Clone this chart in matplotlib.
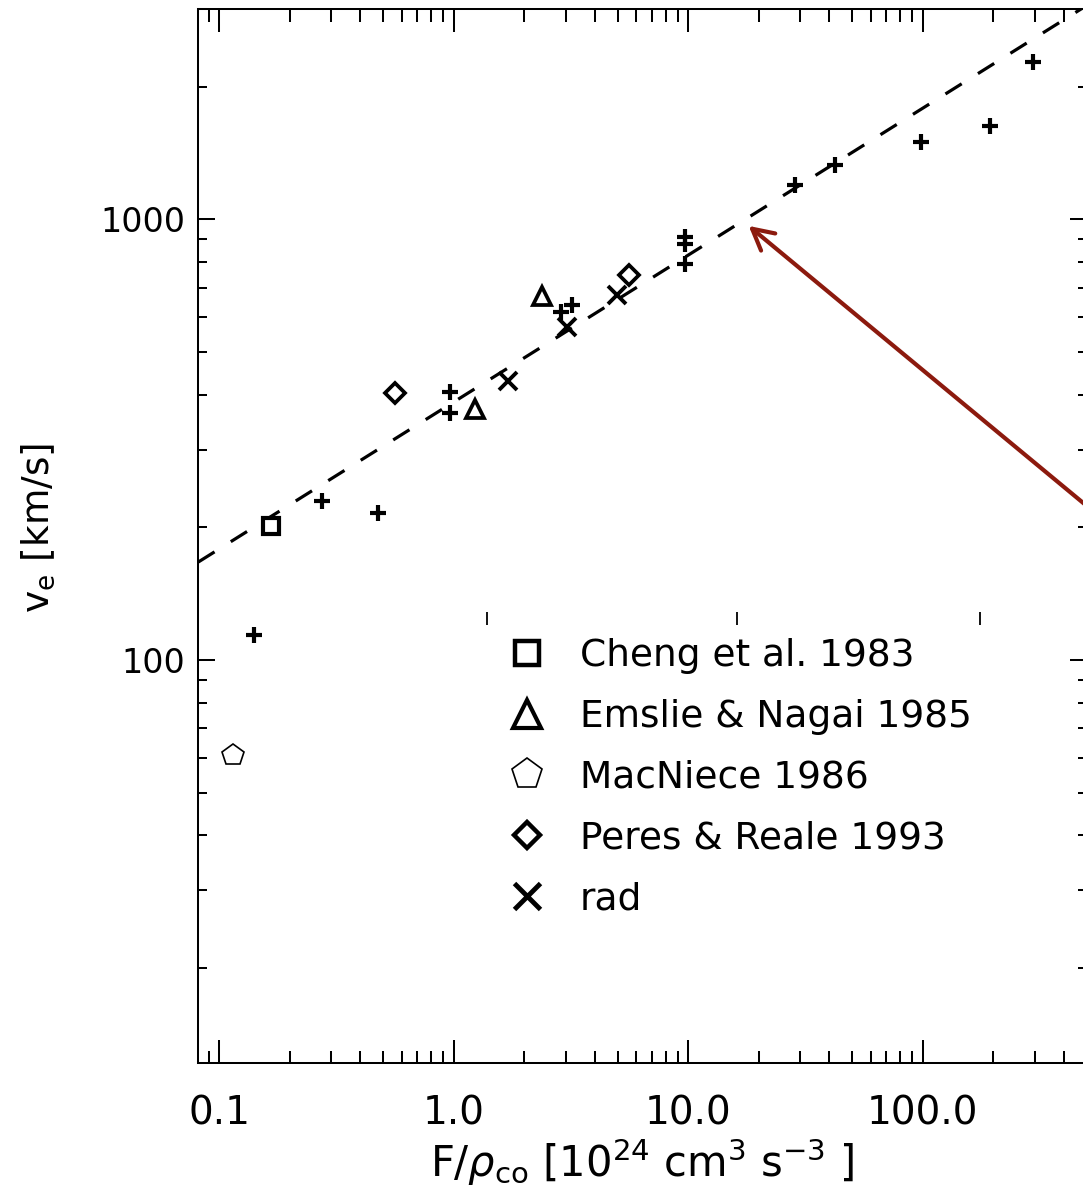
import numpy as np
import matplotlib
matplotlib.use("Agg")
import matplotlib.pyplot as plt
from matplotlib.lines import Line2D
from matplotlib.ticker import FixedLocator, FixedFormatter, NullFormatter

# ---------------- data ----------------
plus_x = [0.14, 0.274, 0.475, 0.96, 0.96, 2.87, 3.2, 9.7, 9.7, 9.7, 28.6, 42.4, 98.4, 193.6, 294]
plus_y = [114, 229, 216, 406, 363, 616, 639, 910, 878, 790, 1196, 1328, 1500, 1631, 2278]

cheng_x = [0.166]
cheng_y = [201]
emslie_x = [1.237, 2.385]
emslie_y = [372, 670]
macniece_x = [0.114]
macniece_y = [61]
peres_x = [0.56, 5.59]
peres_y = [404, 747]
rad_x = [1.71, 3.05, 4.97]
rad_y = [429, 570, 673]

fit_coef = 385.0      # v = fit_coef * (F/rho)^fit_exp
fit_exp = 1.0 / 3.0

x_lim = [0.0814, 500.0]
y_lim = [12.2, 3000.0]
x_major = [0.1, 1.0, 10.0, 100.0]
x_major_labels = ["0.1", "1.0", "10.0", "100.0"]
y_major = [100, 1000]
y_major_labels = ["100", "1000"]

legend_labels = ["Cheng et al. 1983", "Emslie & Nagai 1985", "MacNiece 1986",
                 "Peres & Reale 1993", "rad"]

arrow_tip = (18.1, 966)

# ---------------- figure ----------------
plt.rcParams["font.family"] = ["DejaVu Sans"]
plt.rcParams["mathtext.fontset"] = "dejavusans"

W, H = 1083, 1195
fig = plt.figure(figsize=(W / 100, H / 100), dpi=100)
ax_left, ax_right, ax_top, ax_bottom = 198.3, 1086.7, 9.0, 1062.7
ax = fig.add_axes([ax_left / W, 1 - ax_bottom / H,
                   (ax_right - ax_left) / W, (ax_bottom - ax_top) / H])
ax.set_xscale("log")
ax.set_yscale("log")
ax.set_xlim(x_lim)
ax.set_ylim(y_lim)

# fitted dashed line
xf = np.logspace(np.log10(x_lim[0]), np.log10(x_lim[1]), 200)
fit_line, = ax.plot(xf, fit_coef * xf ** fit_exp, color="black", lw=2.3)
fit_line.set_dashes((6.0, 6.0))

# data points
ax.plot(plus_x, plus_y, ls="none", marker="+", ms=11.5, mew=3.0, color="black")
ax.plot(cheng_x, cheng_y, ls="none", marker="s", ms=11.5, mew=3.0, mfc="white", mec="black")
ax.plot(emslie_x, emslie_y, ls="none", marker="^", ms=13.5, mew=2.7, mfc="white", mec="black")
ax.plot(macniece_x, macniece_y, ls="none", marker="p", ms=16, mew=1.2, mfc="white", mec="black")
ax.plot(peres_x, peres_y, ls="none", marker="D", ms=10.5, mew=2.7, mfc="white", mec="black")
ax.plot(rad_x, rad_y, ls="none", marker="x", ms=12.5, mew=2.8, color="black")

# axes styling
for sp in ax.spines.values():
    sp.set_linewidth(1.45)
ax.xaxis.set_major_locator(FixedLocator(x_major))
ax.xaxis.set_major_formatter(FixedFormatter(x_major_labels))
ax.xaxis.set_minor_formatter(NullFormatter())
ax.yaxis.set_major_locator(FixedLocator(y_major))
ax.yaxis.set_major_formatter(FixedFormatter(y_major_labels))
ax.yaxis.set_minor_formatter(NullFormatter())
ax.tick_params(which="both", direction="in", top=True, right=True, width=1.45, color="black")
ax.tick_params(axis="x", which="major", length=16.5, pad=23, labelsize=28)
ax.tick_params(axis="x", which="minor", length=9)
ax.tick_params(axis="y", which="major", length=12, pad=9.5, labelsize=24)
ax.tick_params(axis="y", which="minor", length=6.5)

ax.set_xlabel(r"F/$\rho_{\rm co}$ [10$^{24}$ cm$^{3}$ s$^{-3}$ ]", fontsize=30)
ax.xaxis.set_label_coords(0.5, -0.070)
ax.xaxis.label.set_va("top")
ax.set_ylabel(r"v$_{\rm e}$ [km/s]", fontsize=27)
ax.yaxis.set_label_coords(-0.159, 0.5075)

# legend
handles = [
    Line2D([], [], ls="none", marker="s", ms=17, mew=3.2, mfc="white", mec="black"),
    Line2D([], [], ls="none", marker="^", ms=20, mew=3.0, mfc="white", mec="black"),
    Line2D([], [], ls="none", marker="p", ms=23, mew=1.2, mfc="white", mec="black"),
    Line2D([], [], ls="none", marker="D", ms=13.5, mew=3.2, mfc="white", mec="black"),
    Line2D([], [], ls="none", marker="x", ms=19, mew=3.5, color="black"),
]
ax.legend(handles, legend_labels, loc="upper left", bbox_to_anchor=(0.3497, 0.403),
          frameon=False, fontsize=27, handlelength=0.96, handletextpad=0.93,
          labelspacing=0.66, borderpad=0, borderaxespad=0, numpoints=1)

# small stray tick marks above the legend (present in the reference)
for xa in (0.325, 0.6064, 0.880):
    ax.plot([xa, xa], [0.4154, 0.4277], transform=ax.transAxes, color="black",
            lw=1.3, solid_capstyle="butt")

# arrow
ax.annotate("", xy=arrow_tip, xycoords="data", xytext=(1.184, 0.40),
            textcoords="axes fraction",
            arrowprops=dict(arrowstyle="->,head_length=0.75,head_width=0.4",
                            color="#8C1A0E", lw=3.0, shrinkA=0, shrinkB=0,
                            mutation_scale=20),
            annotation_clip=False)

fig.savefig("out.png", dpi=100)
